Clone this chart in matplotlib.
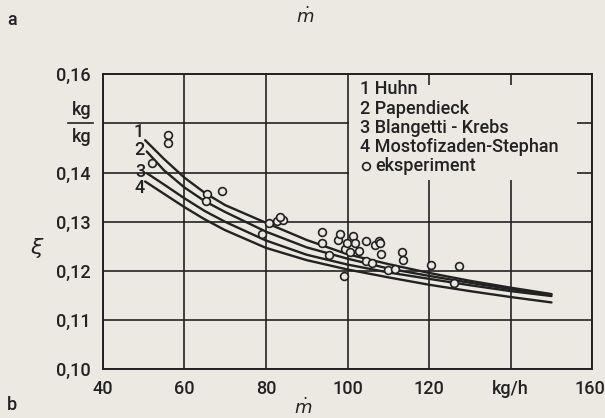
import matplotlib
matplotlib.use("Agg")
import matplotlib.pyplot as plt
from matplotlib.patches import Rectangle
from matplotlib.lines import Line2D
from matplotlib.transforms import ScaledTranslation

# ---------------- data ----------------
x_ticks = [40, 60, 80, 100, 120, 140, 160]
x_tick_labels = ["40", "60", "80", "100", "120", "kg/h", "160"]
y_ticks = [0.10, 0.11, 0.12, 0.13, 0.14, 0.15, 0.16]
y_tick_labels = ["0,10", "0,11", "0,12", "0,13", "0,14", "", "0,16"]

curve_names = ["1 Huhn", "2 Papendieck", "3 Blangetti - Krebs", "4 Mostofizaden-Stephan"]
curve_ids = ["1", "2", "3", "4"]

huhn_x = [50.4, 55, 60, 65, 70, 80, 90, 100, 110, 120, 130, 140, 150]
huhn_y = [0.1466, 0.1428, 0.1390, 0.1359, 0.1334, 0.1298, 0.1263, 0.1234, 0.1214, 0.1196, 0.1180, 0.1166, 0.1153]

papendieck_x = [50.8, 55, 60, 65, 70, 80, 90, 100, 110, 120, 130, 140, 150]
papendieck_y = [0.1443, 0.1405, 0.1370, 0.1342, 0.1320, 0.1280, 0.1248, 0.1225, 0.1205, 0.1190, 0.1176, 0.1163, 0.1152]

blangetti_x = [50.8, 55, 60, 65, 70, 80, 90, 100, 110, 120, 130, 140, 150]
blangetti_y = [0.1399, 0.1376, 0.1348, 0.1322, 0.1300, 0.1262, 0.1233, 0.1213, 0.1197, 0.1184, 0.1171, 0.1159, 0.1149]

mostofizadeh_x = [50.4, 55, 60, 65, 70, 80, 90, 100, 110, 120, 130, 140, 150]
mostofizadeh_y = [0.1382, 0.1357, 0.1330, 0.1305, 0.1283, 0.1247, 0.1222, 0.1203, 0.1187, 0.1172, 0.1159, 0.1147, 0.1136]

exp_x = [52.0, 56.1, 56.1, 65.6, 65.3, 69.2, 79.0, 80.8, 82.8, 84.1, 83.5,
         93.7, 93.7, 95.4, 97.7, 98.2, 99.2, 99.4, 99.8, 100.6, 101.3, 101.8,
         102.9, 104.5, 104.6, 105.9, 106.7, 107.6, 108.0, 108.1, 110.0, 111.6,
         113.3, 113.7, 120.4, 127.3, 126.0]
exp_y = [0.1419, 0.1477, 0.1461, 0.1357, 0.1342, 0.1363, 0.1275, 0.1297, 0.1302, 0.1304, 0.1310,
         0.1280, 0.1257, 0.1233, 0.1263, 0.1275, 0.1189, 0.1245, 0.1257, 0.1239, 0.1272, 0.1257,
         0.1241, 0.1260, 0.1221, 0.1216, 0.1252, 0.1261, 0.1257, 0.1234, 0.1202, 0.1205,
         0.1238, 0.1223, 0.1212, 0.1210, 0.1175]

# ---------------- style ----------------
BG = "#ebe9e1"
INK = "#222222"
FONT = ["Roboto", "DejaVu Sans"]
plt.rcParams["font.family"] = FONT
plt.rcParams["font.weight"] = "medium"
FS = 13

W, H = 605, 418
fig = plt.figure(figsize=(W / 100, H / 100), dpi=100, facecolor=BG)
L, R, T, B = 102.7, 592.3, 74.3, 369.3
ax = fig.add_axes([L / W, 1 - B / H, (R - L) / W, (B - T) / H])
ax.set_facecolor(BG)
ax.set_xlim(40, 160)
ax.set_ylim(0.10, 0.16)

ax.set_xticks(x_ticks)
ax.set_xticklabels(x_tick_labels, fontsize=FS, color=INK)
ax.set_yticks(y_ticks)
ax.set_yticklabels(y_tick_labels, fontsize=FS, color=INK)
ax.tick_params(axis="both", length=0)
ax.tick_params(axis="x", pad=8)
ax.tick_params(axis="y", pad=9)
ax.grid(True, color=INK, linewidth=1.2, zorder=1)
ax.set_axisbelow(True)
for s in ax.spines.values():
    s.set_color(INK)
    s.set_linewidth(1.4)
    s.set_zorder(6)

last = ax.get_xticklabels()[-1]
last.set_transform(last.get_transform() + ScaledTranslation(-2.5 / 100, 0, fig.dpi_scale_trans))

# legend area masks the grid
ax.add_patch(Rectangle((100.4, 0.1385), 156.3 - 100.4, 0.1578 - 0.1385,
                       facecolor=BG, edgecolor="none", zorder=2))

series = [(huhn_x, huhn_y), (papendieck_x, papendieck_y),
          (blangetti_x, blangetti_y), (mostofizadeh_x, mostofizadeh_y)]
for xs, ys in series:
    ax.plot(xs, ys, color=INK, linewidth=1.7, zorder=3, solid_capstyle="round")

ax.plot(exp_x, exp_y, linestyle="none", marker="o", markersize=5.6,
        markerfacecolor=BG, markeredgecolor=INK, markeredgewidth=1.2, zorder=4)

# curve number labels
label_px = [(138.3, 131.7), (139.0, 150.0), (140.0, 171.7), (140.0, 188.0)]
for cid, (px, py) in zip(curve_ids, label_px):
    fig.text(px / W, 1 - py / H, cid, fontsize=FS, color=INK, ha="center", va="center")

# legend text
leg_x = 360
leg_y = [89.3, 109.0, 128.3, 147.0, 166.0]
for name, py in zip(curve_names, leg_y[:4]):
    fig.text(leg_x / W, 1 - py / H, name, fontsize=FS, color=INK, ha="left", va="center")
fig.add_artist(Line2D([365.5 / W], [1 - leg_y[4] / H], marker="o", markersize=5.6,
                      markerfacecolor=BG, markeredgecolor=INK, markeredgewidth=1.2,
                      linestyle="none"))
fig.text(375 / W, 1 - leg_y[4] / H, "eksperiment", fontsize=FS, color=INK,
         ha="left", va="center")

# y unit kg/kg
fig.text(81.5 / W, 1 - 110 / H, "kg", fontsize=FS, color=INK, ha="center", va="center")
fig.text(81.5 / W, 1 - 137 / H, "kg", fontsize=FS, color=INK, ha="center", va="center")
fig.add_artist(Line2D([68 / W, 93 / W], [1 - 122.5 / H, 1 - 122.5 / H], color=INK, linewidth=1.2))

# axis symbols
fig.text(37 / W, 1 - 248 / H, r"$\xi$", fontsize=16, color=INK, ha="center", va="center")
fig.text(303 / W, 1 - 408 / H, r"$\dot{m}$", fontsize=FS, color=INK, ha="center", va="center")
fig.text(305 / W, 1 - 17 / H, r"$\dot{m}$", fontsize=FS, color=INK, ha="center", va="center")
fig.text(12 / W, 1 - 405 / H, "b", fontsize=FS, color=INK, ha="center", va="center")
fig.text(12 / W, 1 - 20 / H, "a", fontsize=FS, color=INK, ha="center", va="center")

fig.savefig("out.png", dpi=100, facecolor=BG)
